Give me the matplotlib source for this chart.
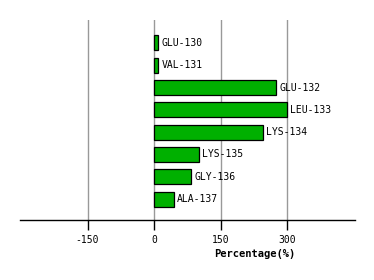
import matplotlib
matplotlib.use("Agg")
import matplotlib.pyplot as plt

residues = ["GLU-130", "VAL-131", "GLU-132", "LEU-133", "LYS-134", "LYS-135", "GLY-136", "ALA-137"]
values = [7.5, 9.7, 275, 298, 244, 100, 82, 43.5]
tick_values = [-150, 0, 150, 300]
tick_labels = ["-150", "0", "150", "300"]

plt.rcParams['font.family'] = ['DejaVu Sans Mono']

fig = plt.figure(figsize=(3.74, 2.80), dpi=100)
ax = fig.add_axes([20/374, 60/280, 335/374, 200/280])

ypos = list(range(len(residues)))
ax.barh(ypos, values, height=0.67, color="#00b000", edgecolor="black", linewidth=0.9, zorder=3)
for y, v, name in zip(ypos, values, residues):
    ax.text(v + 8, y, name, va="center", ha="left", fontsize=7, zorder=4)

ax.set_xlim(-302, 452)
ax.set_ylim(7.94, -1.03)
ax.set_xticks(tick_values)
ax.set_xticklabels(tick_labels, fontsize=7)
ax.set_yticks([])
for t in tick_values:
    ax.axvline(t, color="#999999", linewidth=1.0, zorder=1)
for s in ["left", "right", "top"]:
    ax.spines[s].set_visible(False)
ax.spines["bottom"].set_linewidth(1.0)
ax.tick_params(axis="x", length=7, width=1.0, pad=4)
ax.set_xlabel("Percentage(%)", fontsize=7.5, fontweight="bold", labelpad=5)
ax.xaxis.set_label_coords((254.7 - 20) / 335, -0.145)

fig.savefig("out.png", dpi=100)
